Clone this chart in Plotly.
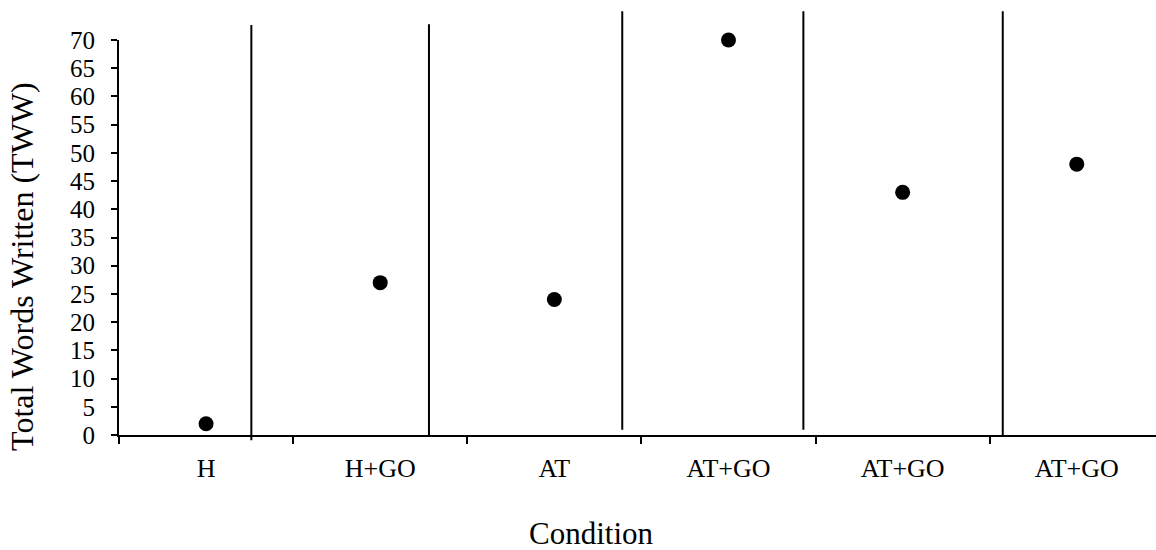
import plotly.graph_objects as go

conditions = ["H", "H+GO", "AT", "AT+GO", "AT+GO", "AT+GO"]
tww = [2, 27, 24, 70, 43, 48]
y_ticks = list(range(0, 75, 5))

# phase-change lines: (x in data units, bottom/top in paper units)
phase_x = [0.26, 1.28, 2.39, 3.43, 4.575]
phase_y0 = [-0.013, 0.0, 0.013, 0.013, 0.0]
phase_y1 = [1.038, 1.04, 1.073, 1.073, 1.073]

FONT = "Liberation Serif, Times New Roman, serif"
xs = list(range(len(conditions)))

fig = go.Figure()
fig.add_trace(go.Scatter(
    x=xs, y=tww, mode="markers",
    marker=dict(color="black", size=15, symbol="circle"),
    cliponaxis=False, showlegend=False, hoverinfo="skip"))

for xv, a, b in zip(phase_x, phase_y0, phase_y1):
    fig.add_shape(type="line", xref="x", yref="paper", x0=xv, x1=xv, y0=a, y1=b,
                  line=dict(color="black", width=2))

fig.update_xaxes(
    range=[-0.5, 5.455], tickmode="array", tickvals=xs, ticktext=conditions,
    ticks="", showline=True, linecolor="black", linewidth=2, showgrid=False,
    zeroline=False, tickfont=dict(family=FONT, size=26, color="black"),
    ticklabelstandoff=9,
    minor=dict(tickmode="array", tickvals=[i - 0.5 for i in range(7)],
               ticks="outside", ticklen=7, tickwidth=2, tickcolor="black", showgrid=False))
fig.update_yaxes(
    range=[0, 70], tickmode="array", tickvals=y_ticks,
    ticks="outside", ticklen=6, tickwidth=2, tickcolor="black",
    showline=True, linecolor="black", linewidth=2, showgrid=False, zeroline=False,
    tickfont=dict(family=FONT, size=25, color="black"), ticklabelstandoff=11)

fig.add_annotation(text="Total Words Written (TWW)", xref="paper", yref="paper",
                   x=-0.0936, y=0.428, textangle=-90, showarrow=False,
                   xanchor="center", yanchor="middle",
                   font=dict(family=FONT, size=32, color="black"))
fig.add_annotation(text="Condition", xref="paper", yref="paper",
                   x=0.456, y=-0.25, showarrow=False,
                   xanchor="center", yanchor="middle",
                   font=dict(family=FONT, size=31, color="black"))

fig.update_layout(
    width=1156, height=550, margin=dict(l=119, r=0, t=40, b=115),
    plot_bgcolor="white", paper_bgcolor="white", showlegend=False)

fig.write_html("out.html", config={"displayModeBar": False},
               post_script="document.body.style.margin='0';")
